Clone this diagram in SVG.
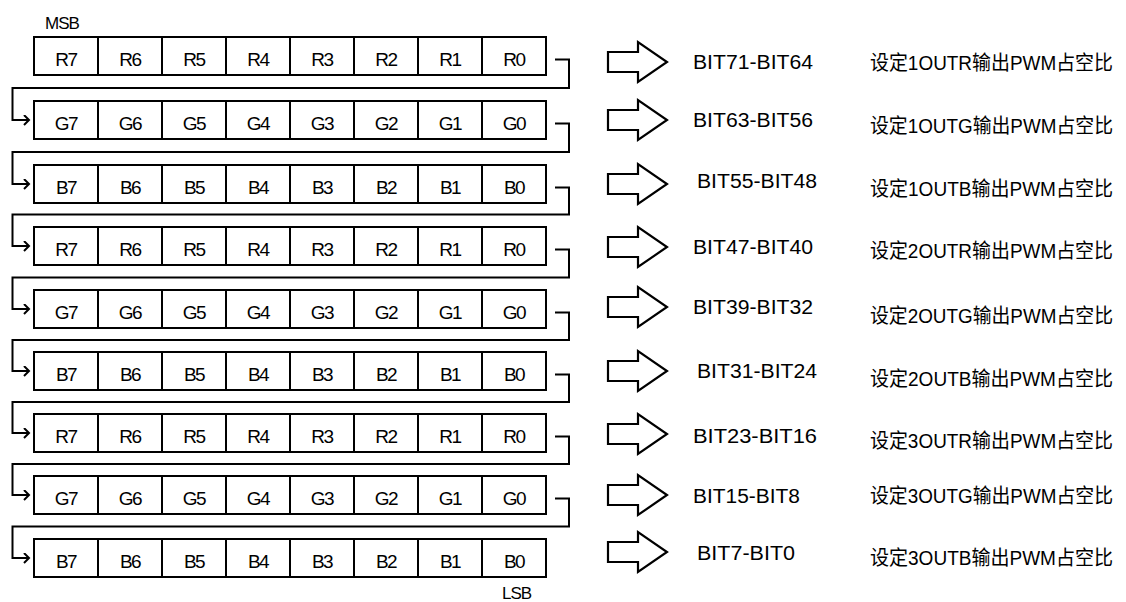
<svg xmlns="http://www.w3.org/2000/svg" width="1126" height="602" viewBox="0 0 1126 602">
<style>
.cell{fill:#fff;stroke:#000;stroke-width:2}
.ct{font-family:"Liberation Sans",Arial,sans-serif;font-size:19px;letter-spacing:-1.5px;text-anchor:middle;fill:#000}
.conn{fill:none;stroke:#000;stroke-width:2}
.harrow{fill:#fff;stroke:#000;stroke-width:2.2;stroke-linejoin:miter}
.bit{font-family:"Liberation Sans",Arial,sans-serif;font-size:20px;fill:#000}
.cn{font-family:"Liberation Sans","Noto Sans CJK SC",sans-serif;font-size:20px;fill:#000}
.ml{font-family:"Liberation Sans",Arial,sans-serif;font-size:17px;letter-spacing:-1px;fill:#000}
</style>
<defs>
<marker id="ah" markerUnits="userSpaceOnUse" markerWidth="12" markerHeight="12" refX="6" refY="5" orient="auto" viewBox="0 0 12 12">
<path d="M1,0 L6,5 L1,10" fill="none" stroke="#000" stroke-width="2"/>
</marker>
<g id="cells8">
<rect class="cell" x="34" y="0" width="64" height="38"/>
<rect class="cell" x="98" y="0" width="64" height="38"/>
<rect class="cell" x="162" y="0" width="64" height="38"/>
<rect class="cell" x="226" y="0" width="64" height="38"/>
<rect class="cell" x="290" y="0" width="64" height="38"/>
<rect class="cell" x="354" y="0" width="64" height="38"/>
<rect class="cell" x="418" y="0" width="64" height="38"/>
<rect class="cell" x="482" y="0" width="64" height="38"/>
</g>
<polygon id="hollow" class="harrow" points="608,-10 638,-10 638,-20 667,0 638,20 638,10 608,10"/>
</defs>
<rect width="1126" height="602" fill="#fff"/>
<text class="ml" x="45" y="29">MSB</text>
<text class="ml" x="502" y="599">LSB</text>

<g id="row1" transform="translate(0,37)"><use href="#cells8"/>
<text class="ct" y="29"><tspan x="66">R7</tspan><tspan x="130">R6</tspan><tspan x="194">R5</tspan><tspan x="258">R4</tspan><tspan x="322">R3</tspan><tspan x="386">R2</tspan><tspan x="450">R1</tspan><tspan x="514">R0</tspan></text></g>
<g id="row2" transform="translate(0,101)"><use href="#cells8"/>
<text class="ct" y="29"><tspan x="66">G7</tspan><tspan x="130">G6</tspan><tspan x="194">G5</tspan><tspan x="258">G4</tspan><tspan x="322">G3</tspan><tspan x="386">G2</tspan><tspan x="450">G1</tspan><tspan x="514">G0</tspan></text></g>
<g id="row3" transform="translate(0,165)"><use href="#cells8"/>
<text class="ct" y="29"><tspan x="66">B7</tspan><tspan x="130">B6</tspan><tspan x="194">B5</tspan><tspan x="258">B4</tspan><tspan x="322">B3</tspan><tspan x="386">B2</tspan><tspan x="450">B1</tspan><tspan x="514">B0</tspan></text></g>
<g id="row4" transform="translate(0,227)"><use href="#cells8"/>
<text class="ct" y="29"><tspan x="66">R7</tspan><tspan x="130">R6</tspan><tspan x="194">R5</tspan><tspan x="258">R4</tspan><tspan x="322">R3</tspan><tspan x="386">R2</tspan><tspan x="450">R1</tspan><tspan x="514">R0</tspan></text></g>
<g id="row5" transform="translate(0,290)"><use href="#cells8"/>
<text class="ct" y="29"><tspan x="66">G7</tspan><tspan x="130">G6</tspan><tspan x="194">G5</tspan><tspan x="258">G4</tspan><tspan x="322">G3</tspan><tspan x="386">G2</tspan><tspan x="450">G1</tspan><tspan x="514">G0</tspan></text></g>
<g id="row6" transform="translate(0,352)"><use href="#cells8"/>
<text class="ct" y="29"><tspan x="66">B7</tspan><tspan x="130">B6</tspan><tspan x="194">B5</tspan><tspan x="258">B4</tspan><tspan x="322">B3</tspan><tspan x="386">B2</tspan><tspan x="450">B1</tspan><tspan x="514">B0</tspan></text></g>
<g id="row7" transform="translate(0,414)"><use href="#cells8"/>
<text class="ct" y="29"><tspan x="66">R7</tspan><tspan x="130">R6</tspan><tspan x="194">R5</tspan><tspan x="258">R4</tspan><tspan x="322">R3</tspan><tspan x="386">R2</tspan><tspan x="450">R1</tspan><tspan x="514">R0</tspan></text></g>
<g id="row8" transform="translate(0,476)"><use href="#cells8"/>
<text class="ct" y="29"><tspan x="66">G7</tspan><tspan x="130">G6</tspan><tspan x="194">G5</tspan><tspan x="258">G4</tspan><tspan x="322">G3</tspan><tspan x="386">G2</tspan><tspan x="450">G1</tspan><tspan x="514">G0</tspan></text></g>
<g id="row9" transform="translate(0,539)"><use href="#cells8"/>
<text class="ct" y="29"><tspan x="66">B7</tspan><tspan x="130">B6</tspan><tspan x="194">B5</tspan><tspan x="258">B4</tspan><tspan x="322">B3</tspan><tspan x="386">B2</tspan><tspan x="450">B1</tspan><tspan x="514">B0</tspan></text></g>

<g id="connectors">
<path class="conn" marker-end="url(#ah)" d="M555,59.5 H569 V88 H12.5 V120 H29"/>
<path class="conn" marker-end="url(#ah)" d="M555,123.5 H569 V152 H12.5 V184 H29"/>
<path class="conn" marker-end="url(#ah)" d="M555,187.5 H569 V214.5 H12.5 V246 H29"/>
<path class="conn" marker-end="url(#ah)" d="M555,249.5 H569 V277.5 H12.5 V309 H29"/>
<path class="conn" marker-end="url(#ah)" d="M555,312.5 H569 V340 H12.5 V371 H29"/>
<path class="conn" marker-end="url(#ah)" d="M555,374.5 H569 V402 H12.5 V433 H29"/>
<path class="conn" marker-end="url(#ah)" d="M555,436.5 H569 V464 H12.5 V495 H29"/>
<path class="conn" marker-end="url(#ah)" d="M555,498.5 H569 V526.5 H12.5 V558 H29"/>
</g>

<g id="out1"><use href="#hollow" transform="translate(0,62)"/><text class="bit" x="693" y="69" textLength="120" lengthAdjust="spacingAndGlyphs">BIT71-BIT64</text><text class="cn" x="870" y="70" textLength="243" lengthAdjust="spacingAndGlyphs">设定1OUTR输出PWM占空比</text></g>
<g id="out2"><use href="#hollow" transform="translate(0,120)"/><text class="bit" x="693" y="127" textLength="120" lengthAdjust="spacingAndGlyphs">BIT63-BIT56</text><text class="cn" x="870" y="133" textLength="243" lengthAdjust="spacingAndGlyphs">设定1OUTG输出PWM占空比</text></g>
<g id="out3"><use href="#hollow" transform="translate(0,184)"/><text class="bit" x="697" y="188" textLength="120" lengthAdjust="spacingAndGlyphs">BIT55-BIT48</text><text class="cn" x="870" y="196" textLength="243" lengthAdjust="spacingAndGlyphs">设定1OUTB输出PWM占空比</text></g>
<g id="out4"><use href="#hollow" transform="translate(0,247)"/><text class="bit" x="693" y="254" textLength="120" lengthAdjust="spacingAndGlyphs">BIT47-BIT40</text><text class="cn" x="870" y="258" textLength="243" lengthAdjust="spacingAndGlyphs">设定2OUTR输出PWM占空比</text></g>
<g id="out5"><use href="#hollow" transform="translate(0,307)"/><text class="bit" x="693" y="314" textLength="120" lengthAdjust="spacingAndGlyphs">BIT39-BIT32</text><text class="cn" x="870" y="323" textLength="243" lengthAdjust="spacingAndGlyphs">设定2OUTG输出PWM占空比</text></g>
<g id="out6"><use href="#hollow" transform="translate(0,371)"/><text class="bit" x="697" y="378" textLength="120" lengthAdjust="spacingAndGlyphs">BIT31-BIT24</text><text class="cn" x="870" y="386" textLength="243" lengthAdjust="spacingAndGlyphs">设定2OUTB输出PWM占空比</text></g>
<g id="out7"><use href="#hollow" transform="translate(0,434)"/><text class="bit" x="693" y="443" textLength="124" lengthAdjust="spacingAndGlyphs">BIT23-BIT16</text><text class="cn" x="870" y="448" textLength="243" lengthAdjust="spacingAndGlyphs">设定3OUTR输出PWM占空比</text></g>
<g id="out8"><use href="#hollow" transform="translate(0,495)"/><text class="bit" x="693" y="503" textLength="107" lengthAdjust="spacingAndGlyphs">BIT15-BIT8</text><text class="cn" x="870" y="503" textLength="243" lengthAdjust="spacingAndGlyphs">设定3OUTG输出PWM占空比</text></g>
<g id="out9"><use href="#hollow" transform="translate(0,552)"/><text class="bit" x="697" y="560" textLength="98" lengthAdjust="spacingAndGlyphs">BIT7-BIT0</text><text class="cn" x="870" y="565" textLength="243" lengthAdjust="spacingAndGlyphs">设定3OUTB输出PWM占空比</text></g>
</svg>
